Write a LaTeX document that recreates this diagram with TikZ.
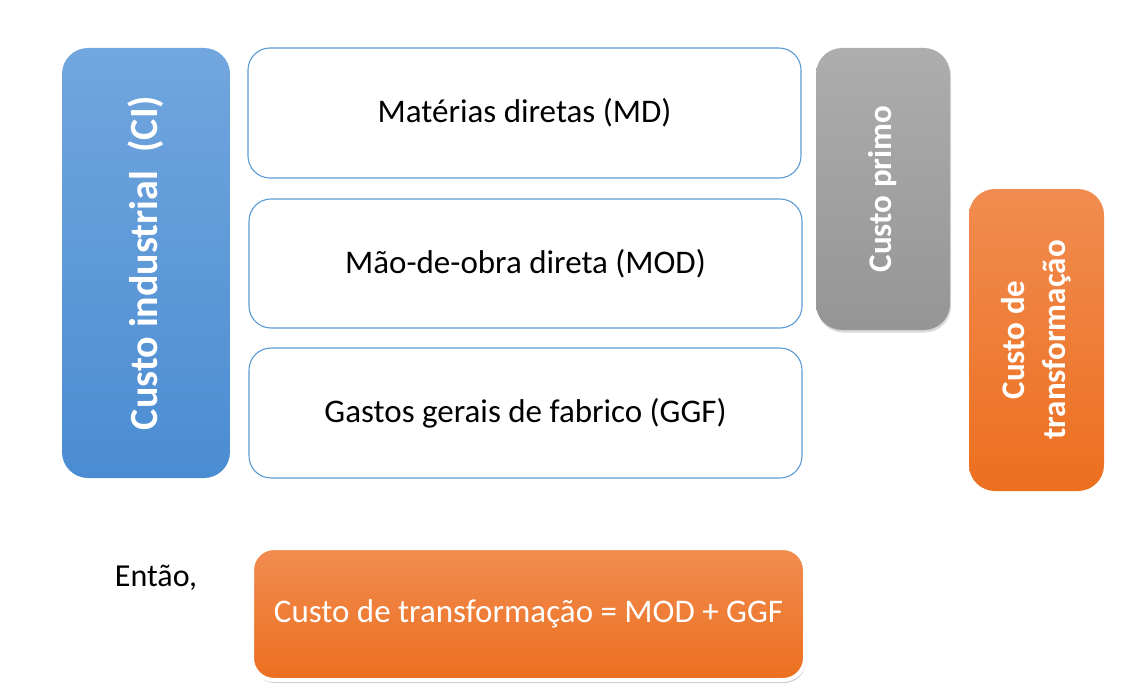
\documentclass[tikz,border=0pt]{standalone}
\usepackage{fontspec}
\setmainfont{Carlito}
\usetikzlibrary{shadows}
\definecolor{citop}{RGB}{114,166,222}
\definecolor{cibot}{RGB}{74,140,210}
\definecolor{partline}{RGB}{91,155,213}
\definecolor{greytop}{RGB}{173,173,173}
\definecolor{greybot}{RGB}{149,149,149}
\definecolor{orangetop}{RGB}{241,140,80}
\definecolor{orangebot}{RGB}{236,111,31}

\begin{document}
\begin{tikzpicture}[x=1pt,y=-1pt,
  part/.style={draw=partline, line width=1.1pt, rounded corners=22pt,
    fill=white, minimum width=553pt, minimum height=130pt,
    font=\fontsize{33}{40}\selectfont},
  sidebox/.style={rounded corners=26pt, inner sep=0pt},
  sidetext/.style={rotate=90, text=white, align=center,
    font=\bfseries\fontsize{33}{41}\selectfont}]
  \useasboundingbox (0,0) rectangle (1145,690);

  % custo industrial
  \node[sidebox, top color=citop, bottom color=cibot,
    minimum width=168pt, minimum height=430pt] (ci) at (146,263) {};
  \node[sidetext, font=\bfseries\fontsize{40}{46}\selectfont]
    (citext) at (ci.center) {Custo industrial\ \ (CI)};

  % componentes
  \node[part] (md) at (524.5,113) {Matérias diretas (MD)};
  \node[part, minimum height=129pt] (mod) at (525.5,263.5)
    {Mão-de-obra direta (MOD)};
  \node[part] (ggf) at (525.5,413) {Gastos gerais de fabrico (GGF)};

  % custo primo
  \node[sidebox, top color=greytop, bottom color=greybot,
    minimum width=134pt, minimum height=282pt,
    drop shadow={shadow xshift=1pt, shadow yshift=-2.5pt, opacity=0.3}]
    (primo) at (883,189) {};
  \node[sidetext] (primotext) at (primo.center) {Custo primo};

  % custo de transformacao
  \node[sidebox, top color=orangetop, bottom color=orangebot,
    minimum width=135pt, minimum height=302pt] (transf) at (1036.5,340) {};
  \node[sidetext] (transftext) at (transf.center)
    {Custo de\\transformação};

  % conclusao
  \node[font=\fontsize{32}{40}\selectfont] (entao) at (156,578) {Então,};
  \node[draw=white, line width=4pt, rounded corners=22pt,
    top color=orangetop, bottom color=orangebot, text=white,
    minimum width=553pt, minimum height=132pt,
    font=\fontsize{33}{40}\selectfont,
    drop shadow={shadow xshift=1pt, shadow yshift=-3pt, opacity=0.4}]
    (result) at (528.5,614) {Custo de transformação = MOD + GGF};
\end{tikzpicture}
\end{document}
